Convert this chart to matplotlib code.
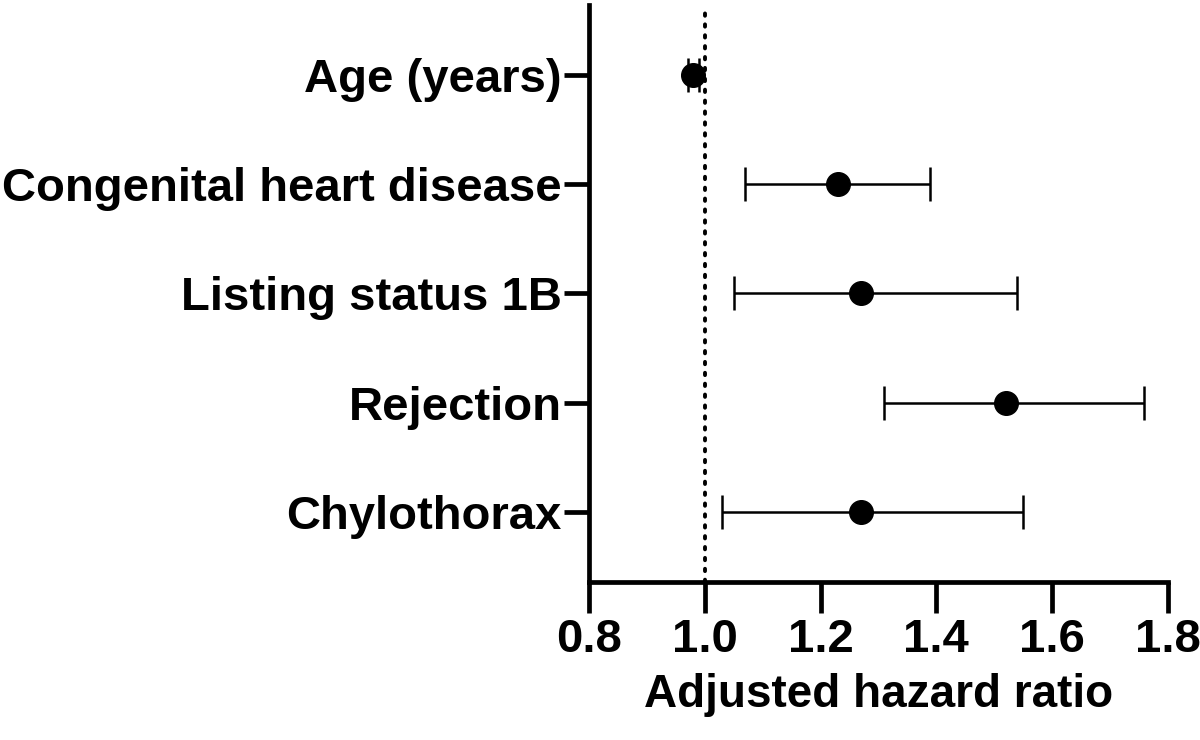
import matplotlib.pyplot as plt

plt.rcParams['font.family'] = ['Liberation Sans', 'DejaVu Sans']
plt.rcParams['font.weight'] = 'bold'

labels = ["Age (years)", "Congenital heart disease", "Listing status 1B",
          "Rejection", "Chylothorax"]
hr = [0.98, 1.23, 1.27, 1.52, 1.27]
lo = [0.97, 1.07, 1.05, 1.31, 1.03]
hi = [0.99, 1.39, 1.54, 1.76, 1.55]

fig = plt.figure(figsize=(12, 7.4), dpi=100)
ax = fig.add_axes([0.491, 0.214, 0.482, 0.779])

ypos = list(range(len(labels)))
err_lo = [h - l for h, l in zip(hr, lo)]
err_hi = [u - h for h, u in zip(hr, hi)]

ax.axvline(1.0, color='black', lw=2.8, linestyle=(0, (0.6, 2.2)),
           dash_capstyle='round', zorder=1)
ax.errorbar(hr, ypos, xerr=[err_lo, err_hi], fmt='o', color='black',
            markersize=17, elinewidth=1.8, capsize=12, capthick=1.8, zorder=3)

ax.set_xlim(0.8, 1.8)
ax.set_ylim(4.64, -0.64)
ax.set_xticks([0.8, 1.0, 1.2, 1.4, 1.6, 1.8])
ax.set_xticklabels(["0.8", "1.0", "1.2", "1.4", "1.6", "1.8"])
ax.set_yticks(ypos)
ax.set_yticklabels(labels)

for s in ['top', 'right']:
    ax.spines[s].set_visible(False)
for s in ['left', 'bottom']:
    ax.spines[s].set_linewidth(3.4)
ax.tick_params(axis='y', width=3.4, length=18, labelsize=34, pad=2)
ax.tick_params(axis='x', width=3.4, length=22, labelsize=34, pad=4)

ax.set_xlabel("Adjusted hazard ratio", fontsize=33, fontweight='bold', labelpad=8)

fig.savefig("out.png", dpi=100)
